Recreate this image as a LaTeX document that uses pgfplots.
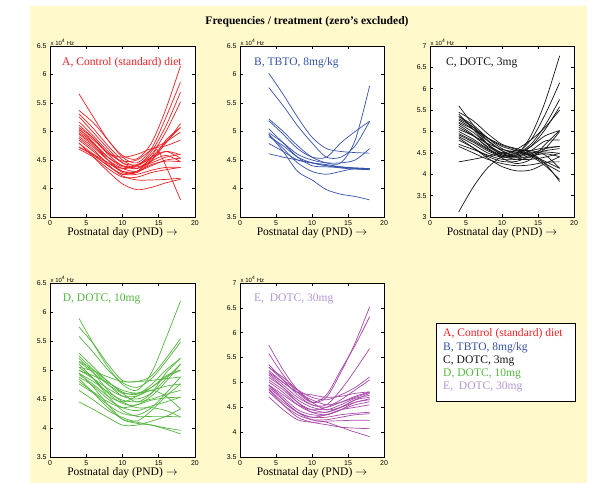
\documentclass[border=0pt]{standalone}
\usepackage{pgfplots}
\pgfplotsset{compat=1.18}
\usepackage{fontspec}
\setmainfont{Liberation Serif}
\newfontfamily\hv{Liberation Sans}
\definecolor{bgy}{RGB}{255,249,204}
\definecolor{cA}{RGB}{236,32,36}
\definecolor{cB}{RGB}{52,82,170}
\definecolor{cC}{RGB}{20,20,20}
\definecolor{cD}{RGB}{84,182,62}
\definecolor{cE}{RGB}{168,72,168}
\definecolor{cEt}{RGB}{180,150,212}
\newcommand\txt{\fontsize{11.6}{13}\selectfont}
\pgfplotsset{
  panel/.style={
    scale only axis, anchor=south west, clip=false,
    xmin=0, xmax=20, xtick={0,5,10,15,20},
    tick align=inside, major tick length=3bp,
    axis background/.style={fill=white},
    axis line style={line width=0.9bp, black},
    every tick/.style={black, line width=0.6bp},
    ticklabel style={font=\hv\fontsize{7}{8}\selectfont},
    /pgf/number format/assume math mode=true,
    xlabel={Postnatal day (PND) $\rightarrow$},
    xlabel style={at={(axis description cs:0.5,0)}, anchor=center, yshift=-16bp, font=\txt},
  },
  lines/.style={every axis plot post/.style={#1, solid, smooth, line width=0.7bp, mark=none}},
}
\begin{document}
\begin{tikzpicture}
\useasboundingbox (0bp,0bp) rectangle (595bp,483bp);
\fill[white] (0bp,0bp) rectangle (595bp,483bp);
\fill[bgy] (30bp,0bp) rectangle (587bp,477bp);
\node[font=\bfseries\txt] at (307bp,461bp) {Frequencies / treatment (zero’s excluded)};

% ---------------- Panel A ----------------
\begin{axis}[panel, at={(50bp,266bp)}, width=145bp, height=171bp,
  ymin=3.5, ymax=6.5, ytick={3.5,4,...,6.5}, lines=cA]
\addplot coordinates {(4,5.66)(6,5.25)(8,4.85)(10,4.58)(12,4.52)(14,4.80)(16,5.40)(18,6.15)};
\addplot coordinates {(4,5.37)(6,5.15)(8,4.85)(10,4.55)(12,4.45)(14,4.70)(16,5.25)(18,5.87)};
\addplot coordinates {(4,5.31)(6,5.05)(8,4.75)(10,4.50)(12,4.40)(14,4.65)(16,5.10)(18,5.69)};
\addplot coordinates {(4,5.26)(6,4.98)(8,4.70)(10,4.45)(12,4.42)(14,4.60)(16,5.00)(18,5.52)};
\addplot coordinates {(4,5.17)(6,4.92)(8,4.65)(10,4.45)(12,4.35)(14,4.50)(16,4.80)(18,5.14)};
\addplot coordinates {(4,5.11)(6,4.88)(8,4.60)(10,4.40)(12,4.40)(14,4.55)(16,4.82)(18,5.07)};
\addplot coordinates {(4,5.07)(6,4.88)(8,4.62)(10,4.48)(12,4.50)(14,4.68)(16,4.82)(18,4.99)};
\addplot coordinates {(4,5.03)(6,4.85)(8,4.62)(10,4.55)(12,4.60)(14,4.70)(16,4.75)(18,4.85)};
\addplot coordinates {(4,4.97)(6,4.78)(8,4.55)(10,4.40)(12,4.35)(14,4.52)(16,4.65)(18,4.59)};
\addplot coordinates {(4,4.91)(6,4.72)(8,4.50)(10,4.35)(12,4.30)(14,4.40)(16,4.50)(18,4.53)};
\addplot coordinates {(4,4.85)(6,4.65)(8,4.45)(10,4.30)(12,4.30)(14,4.42)(16,4.48)(18,4.47)};
\addplot coordinates {(4,4.79)(6,4.60)(8,4.40)(10,4.25)(12,4.25)(14,4.32)(16,4.37)(18,4.37)};
\addplot coordinates {(4,4.73)(6,4.58)(8,4.40)(10,4.25)(12,4.30)(14,4.48)(16,4.58)(18,4.47)};
\addplot coordinates {(4,4.69)(6,4.55)(8,4.35)(10,4.20)(12,4.20)(14,4.28)(16,4.33)(18,4.37)};
\addplot coordinates {(4,4.95)(6,4.75)(8,4.50)(10,4.30)(12,4.30)(14,4.55)(15,4.65)(18,3.80)};
\addplot coordinates {(4,4.88)(6,4.68)(8,4.42)(10,4.22)(12,4.15)(14,4.15)(16,4.16)(18,4.18)};
\addplot coordinates {(4,4.80)(6,4.55)(8,4.30)(10,4.08)(12,3.98)(14,4.02)(16,4.10)(18,4.16)};
\addplot coordinates {(4,5.05)(6,4.80)(8,4.50)(10,4.28)(12,4.28)(14,4.48)(16,4.85)(18,5.07)};
\addplot coordinates {(4,4.72)(6,4.60)(8,4.45)(10,4.35)(12,4.40)(14,4.55)(16,4.65)(18,4.53)};
\addplot coordinates {(4,5.00)(6,4.80)(8,4.55)(10,4.38)(12,4.38)(14,4.45)(16,4.55)(18,4.60)};
\node[anchor=south west, inner sep=0.5bp, font=\hv\fontsize{6}{7}\selectfont] at (rel axis cs:0,1) {x 10\textsuperscript{4} Hz};
\node[anchor=west, inner sep=0pt, font=\txt, text=cA] at (rel axis cs:0.083,0.9) {A, Control (standard) diet};
\end{axis}

% ---------------- Panel B ----------------
\begin{axis}[panel, at={(240bp,266bp)}, width=144bp, height=171bp,
  ymin=3.5, ymax=6.5, ytick={3.5,4,...,6.5}, lines=cB]
\addplot coordinates {(4,6.02)(6,5.65)(8,5.25)(10,4.90)(12,4.70)(14,4.65)(16,4.63)(18,4.62)};
\addplot coordinates {(4,5.77)(6,5.45)(8,5.10)(10,4.80)(12,4.55)(14,4.55)(16,4.75)(18,5.18)};
\addplot coordinates {(4,5.22)(6,5.00)(8,4.75)(10,4.55)(12,4.45)(14,4.45)(16,4.85)(18,5.80)};
\addplot coordinates {(4,5.19)(6,4.95)(8,4.70)(10,4.55)(12,4.55)(14,4.80)(16,5.00)(18,5.18)};
\addplot coordinates {(4,4.98)(6,4.80)(8,4.60)(10,4.50)(12,4.45)(14,4.45)(16,4.50)(18,4.70)};
\addplot coordinates {(4,4.95)(6,4.70)(8,4.45)(10,4.30)(12,4.25)(14,4.30)(16,4.35)(18,4.35)};
\addplot coordinates {(4,4.91)(6,4.75)(8,4.55)(10,4.45)(12,4.40)(14,4.38)(16,4.36)(18,4.35)};
\addplot coordinates {(4,4.79)(6,4.65)(8,4.50)(10,4.45)(12,4.42)(14,4.38)(16,4.35)(18,4.33)};
\addplot coordinates {(4,4.61)(6,4.55)(8,4.50)(10,4.45)(12,4.40)(14,4.36)(16,4.34)(18,4.33)};
\addplot coordinates {(4,4.95)(6,4.65)(8,4.30)(10,4.15)(12,3.98)(14,3.90)(16,3.86)(18,3.80)};
\addplot coordinates {(4,5.05)(6,4.80)(8,4.55)(10,4.40)(12,4.38)(14,4.37)(16,4.36)(18,4.35)};
\node[anchor=south west, inner sep=0.5bp, font=\hv\fontsize{6}{7}\selectfont] at (rel axis cs:0,1) {x 10\textsuperscript{4} Hz};
\node[anchor=west, inner sep=0pt, font=\txt, text=cB] at (rel axis cs:0.097,0.9) {B, TBTO, 8mg/kg};
\end{axis}

% ---------------- Panel C ----------------
\begin{axis}[panel, at={(430bp,266bp)}, width=144bp, height=171bp,
  ymin=3, ymax=7, ytick={3,3.5,...,7}, lines=cC]
\addplot coordinates {(4,5.60)(6,5.15)(8,4.70)(10,4.45)(12,4.45)(14,4.90)(16,5.70)(18,6.77)};
\addplot coordinates {(4,5.41)(6,5.05)(8,4.70)(10,4.50)(12,4.50)(14,4.80)(16,5.40)(18,6.14)};
\addplot coordinates {(4,5.35)(6,5.15)(8,4.85)(10,4.60)(12,4.50)(14,4.70)(16,5.15)(18,5.75)};
\addplot coordinates {(4,5.27)(6,5.05)(8,4.78)(10,4.55)(12,4.45)(14,4.65)(16,5.05)(18,5.58)};
\addplot coordinates {(4,5.19)(6,4.98)(8,4.70)(10,4.50)(12,4.48)(14,4.65)(16,4.90)(18,5.02)};
\addplot coordinates {(4,5.10)(6,4.90)(8,4.65)(10,4.48)(12,4.42)(14,4.55)(16,4.78)(18,4.80)};
\addplot coordinates {(4,5.00)(6,4.82)(8,4.60)(10,4.45)(12,4.45)(14,4.55)(16,4.62)(18,4.65)};
\addplot coordinates {(4,4.88)(6,4.70)(8,4.50)(10,4.40)(12,4.42)(14,4.50)(16,4.52)(18,4.49)};
\addplot coordinates {(4,4.80)(6,4.62)(8,4.42)(10,4.30)(12,4.30)(14,4.42)(16,4.48)(18,4.41)};
\addplot coordinates {(4,4.65)(6,4.50)(8,4.35)(10,4.25)(12,4.20)(14,4.22)(16,4.28)(18,4.29)};
\addplot coordinates {(4,4.29)(6,4.35)(8,4.42)(10,4.50)(12,4.55)(14,4.55)(16,4.45)(18,4.14)};
\addplot coordinates {(4,3.12)(6,3.70)(8,4.15)(10,4.42)(12,4.58)(14,4.80)(16,5.10)(18,5.50)};
\addplot coordinates {(4,5.45)(6,5.25)(8,4.95)(10,4.70)(12,4.60)(14,4.50)(16,4.25)(18,3.83)};
\addplot coordinates {(4,5.30)(6,5.10)(8,4.85)(10,4.65)(12,4.55)(14,4.42)(16,4.20)(18,3.88)};
\addplot coordinates {(4,5.22)(6,5.05)(8,4.85)(10,4.68)(12,4.58)(14,4.45)(16,4.25)(18,4.06)};
\addplot coordinates {(4,5.05)(6,4.90)(8,4.72)(10,4.58)(12,4.52)(14,4.45)(16,4.30)(18,4.14)};
\addplot coordinates {(4,4.95)(6,4.78)(8,4.58)(10,4.42)(12,4.35)(14,4.35)(16,4.40)(18,4.49)};
\addplot coordinates {(4,4.85)(6,4.62)(8,4.38)(10,4.18)(12,4.08)(14,4.10)(16,4.25)(18,4.41)};
\addplot coordinates {(4,5.15)(6,4.92)(8,4.62)(10,4.38)(12,4.25)(14,4.35)(16,4.70)(18,5.02)};
\addplot coordinates {(4,4.92)(6,4.75)(8,4.55)(10,4.42)(12,4.40)(14,4.48)(16,4.60)(18,4.65)};
\addplot coordinates {(4,5.35)(6,5.10)(8,4.80)(10,4.55)(12,4.40)(14,4.40)(16,4.60)(18,5.00)};
\addplot coordinates {(4,4.70)(6,4.58)(8,4.45)(10,4.35)(12,4.35)(14,4.45)(16,4.55)(18,4.60)};
\node[anchor=south west, inner sep=0.5bp, font=\hv\fontsize{6}{7}\selectfont] at (rel axis cs:0,1) {x 10\textsuperscript{4} Hz};
\node[anchor=west, inner sep=0pt, font=\txt, text=cC] at (rel axis cs:0.11,0.9) {C, DOTC, 3mg};
\end{axis}

% ---------------- Panel D ----------------
\begin{axis}[panel, at={(50bp,26bp)}, width=145bp, height=174bp,
  ymin=3.5, ymax=6.5, ytick={3.5,4,...,6.5}, lines=cD]
\addplot coordinates {(4,5.89)(6,5.45)(8,5.05)(10,4.75)(12,4.65)(14,4.95)(16,5.55)(18,6.19)};
\addplot coordinates {(4,5.74)(6,5.45)(8,5.10)(10,4.82)(12,4.80)(14,4.90)(16,5.20)(18,5.54)};
\addplot coordinates {(4,5.58)(6,5.30)(8,5.00)(10,4.78)(12,4.70)(14,4.85)(16,5.15)(18,5.48)};
\addplot coordinates {(4,5.29)(6,5.05)(8,4.80)(10,4.62)(12,4.58)(14,4.75)(16,5.00)(18,5.20)};
\addplot coordinates {(4,5.24)(6,5.00)(8,4.75)(10,4.55)(12,4.50)(14,4.60)(16,4.85)(18,5.10)};
\addplot coordinates {(4,5.14)(6,4.95)(8,4.75)(10,4.60)(12,4.60)(14,4.70)(16,4.88)(18,4.99)};
\addplot coordinates {(4,5.05)(6,4.98)(8,4.88)(10,4.80)(12,4.80)(14,4.82)(16,4.85)(18,4.88)};
\addplot coordinates {(4,4.99)(6,4.90)(8,4.78)(10,4.65)(12,4.60)(14,4.65)(16,4.72)(18,4.76)};
\addplot coordinates {(4,4.94)(6,4.80)(8,4.62)(10,4.48)(12,4.45)(14,4.50)(16,4.58)(18,4.65)};
\addplot coordinates {(4,4.88)(6,4.72)(8,4.50)(10,4.35)(12,4.30)(14,4.38)(16,4.45)(18,4.53)};
\addplot coordinates {(4,4.76)(6,4.60)(8,4.40)(10,4.25)(12,4.22)(14,4.35)(16,4.60)(18,4.88)};
\addplot coordinates {(4,4.65)(6,4.48)(8,4.30)(10,4.18)(12,4.12)(14,4.30)(16,4.55)(18,4.76)};
\addplot coordinates {(4,4.45)(6,4.32)(8,4.18)(10,4.05)(12,4.05)(14,4.12)(16,4.20)(18,4.33)};
\addplot coordinates {(4,5.20)(6,4.95)(8,4.65)(10,4.45)(12,4.35)(14,4.35)(16,4.30)(18,4.19)};
\addplot coordinates {(4,5.10)(6,4.85)(8,4.55)(10,4.30)(12,4.20)(14,4.20)(16,4.20)(18,4.19)};
\addplot coordinates {(4,4.95)(6,4.70)(8,4.40)(10,4.15)(12,4.08)(14,4.05)(16,4.00)(18,3.96)};
\addplot coordinates {(4,4.85)(6,4.60)(8,4.35)(10,4.15)(12,4.10)(14,4.05)(16,3.98)(18,3.90)};
\addplot coordinates {(4,5.00)(6,4.85)(8,4.68)(10,4.55)(12,4.55)(14,4.65)(16,4.55)(18,4.33)};
\addplot coordinates {(4,4.92)(6,4.75)(8,4.55)(10,4.45)(12,4.55)(14,4.70)(16,4.90)(18,5.00)};
\addplot coordinates {(4,5.15)(6,5.00)(8,4.80)(10,4.60)(12,4.45)(14,4.60)(16,4.95)(18,5.20)};
\addplot coordinates {(4,4.80)(6,4.62)(8,4.45)(10,4.35)(12,4.40)(14,4.48)(16,4.52)(18,4.53)};
\addplot coordinates {(4,5.05)(6,4.85)(8,4.60)(10,4.42)(12,4.40)(14,4.55)(16,4.80)(18,5.10)};
\node[anchor=south west, inner sep=0.5bp, font=\hv\fontsize{6}{7}\selectfont] at (rel axis cs:0,1) {x 10\textsuperscript{4} Hz};
\node[anchor=west, inner sep=0pt, font=\txt, text=cD] at (rel axis cs:0.087,0.908) {D, DOTC, 10mg};
\end{axis}

% ---------------- Panel E ----------------
\begin{axis}[panel, at={(240bp,26bp)}, width=144bp, height=174bp,
  ymin=3.5, ymax=7, ytick={3.5,4,...,7}, lines=cE]
\addplot coordinates {(4,5.75)(6,5.25)(8,4.85)(10,4.60)(12,4.70)(14,5.20)(16,5.80)(18,6.52)};
\addplot coordinates {(4,5.58)(6,5.15)(8,4.80)(10,4.60)(12,4.75)(14,5.25)(16,5.75)(18,6.32)};
\addplot coordinates {(4,5.36)(6,5.05)(8,4.75)(10,4.55)(12,4.55)(14,4.85)(16,5.25)(18,5.68)};
\addplot coordinates {(4,5.31)(6,5.05)(8,4.85)(10,4.70)(12,4.65)(14,4.75)(16,4.90)(18,5.11)};
\addplot coordinates {(4,5.24)(6,5.00)(8,4.80)(10,4.75)(12,4.70)(14,4.72)(16,4.78)(18,4.81)};
\addplot coordinates {(4,5.18)(6,4.95)(8,4.70)(10,4.55)(12,4.50)(14,4.60)(16,4.72)(18,4.81)};
\addplot coordinates {(4,5.10)(6,4.90)(8,4.65)(10,4.50)(12,4.45)(14,4.55)(16,4.68)(18,4.74)};
\addplot coordinates {(4,5.01)(6,4.80)(8,4.55)(10,4.40)(12,4.40)(14,4.50)(16,4.60)(18,4.67)};
\addplot coordinates {(4,4.94)(6,4.70)(8,4.45)(10,4.35)(12,4.35)(14,4.45)(16,4.55)(18,4.61)};
\addplot coordinates {(4,4.87)(6,4.60)(8,4.40)(10,4.30)(12,4.30)(14,4.35)(16,4.38)(18,4.40)};
\addplot coordinates {(4,4.81)(6,4.55)(8,4.35)(10,4.25)(12,4.25)(14,4.30)(16,4.35)(18,4.37)};
\addplot coordinates {(4,4.71)(6,4.45)(8,4.25)(10,4.20)(12,4.22)(14,4.23)(16,4.24)(18,4.24)};
\addplot coordinates {(4,4.85)(6,4.55)(8,4.30)(10,4.20)(12,4.15)(14,4.10)(16,4.08)(18,4.07)};
\addplot coordinates {(4,4.95)(6,4.65)(8,4.40)(10,4.25)(12,4.20)(14,4.10)(16,4.00)(18,3.91)};
\addplot coordinates {(4,5.20)(6,5.00)(8,4.80)(10,4.65)(12,4.55)(14,4.60)(16,4.70)(18,4.80)};
\addplot coordinates {(4,5.30)(6,5.10)(8,4.85)(10,4.60)(12,4.45)(14,4.50)(16,4.65)(18,4.70)};
\addplot coordinates {(4,4.95)(6,4.75)(8,4.55)(10,4.45)(12,4.40)(14,4.50)(16,4.65)(18,4.78)};
\addplot coordinates {(4,5.05)(6,4.85)(8,4.60)(10,4.45)(12,4.50)(14,4.65)(16,4.85)(18,5.05)};
\addplot coordinates {(4,4.90)(6,4.65)(8,4.40)(10,4.30)(12,4.35)(14,4.45)(16,4.50)(18,4.55)};
\addplot coordinates {(4,5.15)(6,4.90)(8,4.60)(10,4.40)(12,4.35)(14,4.45)(16,4.60)(18,4.65)};
\node[anchor=south west, inner sep=0.5bp, font=\hv\fontsize{6}{7}\selectfont] at (rel axis cs:0,1) {x 10\textsuperscript{4} Hz};
\node[anchor=west, inner sep=0pt, font=\txt, text=cEt] at (rel axis cs:0.097,0.91) {E,\ \ DOTC, 30mg};
\end{axis}

% ---------------- Legend ----------------
\draw[line width=0.8bp, fill=white] (436bp,82bp) rectangle (575bp,160bp);
\node[anchor=west, inner sep=0pt, font=\txt, text=cA]  at (443bp,149bp)    {A, Control (standard) diet};
\node[anchor=west, inner sep=0pt, font=\txt, text=cB]  at (443bp,135.75bp) {B, TBTO, 8mg/kg};
\node[anchor=west, inner sep=0pt, font=\txt, text=cC]  at (443bp,122.5bp)  {C, DOTC, 3mg};
\node[anchor=west, inner sep=0pt, font=\txt, text=cD]  at (443bp,109.25bp) {D, DOTC, 10mg};
\node[anchor=west, inner sep=0pt, font=\txt, text=cEt] at (443bp,96bp)     {E,\ \ DOTC, 30mg};
\end{tikzpicture}
\end{document}
